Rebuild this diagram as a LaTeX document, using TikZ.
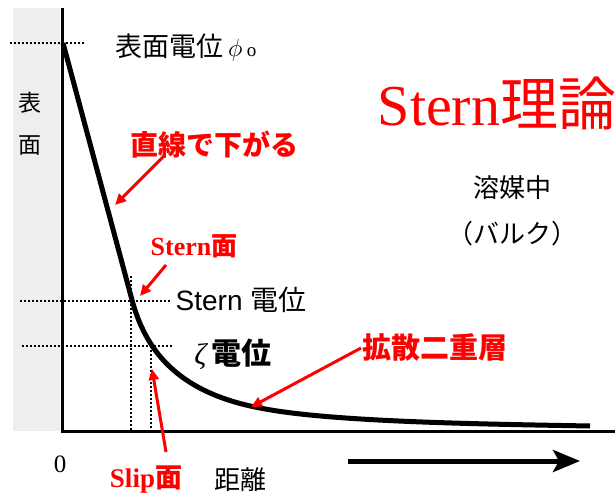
\documentclass[tikz,border=0pt]{standalone}
\usepackage{fontspec}
\setmainfont{Liberation Serif}
\newfontfamily\cjk{Noto Sans CJK JP}
\newfontfamily\arialf{Liberation Sans}
\usetikzlibrary{arrows.meta}
\newcommand\myfs[1]{\fontsize{#1bp}{#1bp}\selectfont}
\tikzset{
  lbl/.style={inner sep=0pt, text=black},
  redlbl/.style={inner sep=0pt, text=red},
  ann/.style={draw=red, line width=3bp, -{Triangle[length=11bp,width=10bp]}},
  guide/.style={line width=1.6bp, dash pattern=on 1.6bp off 2.4bp},
  axisline/.style={line width=3bp},
  potcurve/.style={line width=5bp, line join=round},
}
\begin{document}
\begin{tikzpicture}[x=1bp,y=-1bp]
\useasboundingbox (0,0) rectangle (615,499);
% surface band
\fill[gray!13] (13,8) rectangle (60,431);
% guide lines
\draw[guide] (10,43) -- (85,43);
\draw[guide] (20,301) -- (170,301);
\draw[guide] (22,346) -- (173,346);
\draw[guide] (131,276) -- (131,431);
\draw[guide] (151,346) -- (151,431);
% axes
\draw[axisline] (62,8) -- (62,431) -- (615,431);
% potential curve
\draw[potcurve] (63,43) -- (132,300) .. controls (145,348) and (175,392) .. (260,408)
   .. controls (330,422) and (480,424) .. (590,426);
% distance arrow
\coordinate (d0) at (348,461);
\coordinate (d1) at (580,461);
\draw[line width=5bp, -{Stealth[length=27bp,width=22bp,inset=6bp]}] (d0) -- (d1);
% labels
\node[lbl] (phi0) at (186,48) {\cjk\myfs{27}表面電位\,$\phi$\,{\rmfamily\myfs{19}o}};
\node[lbl] (s1) at (30,103) {\cjk\myfs{23}表};
\node[lbl] (s2) at (30,146) {\cjk\myfs{23}面};
\node[redlbl] (title) at (497,103) {\myfs{58}Stern{\cjk 理論}};
\node[lbl] (bulk1) at (512,188) {\cjk\myfs{26}溶媒中};
\node[lbl] (bulk2) at (512,234) {\cjk\myfs{26}（バルク）};
\node[redlbl] (lin) at (214,145) {\cjk\bfseries\myfs{28}直線で下がる};
\node[redlbl] (sternface) at (194,246) {\myfs{26}\bfseries Stern{\cjk 面}};
\node[lbl] (sternpot) at (241,300) {\arialf\myfs{28}Stern {\cjk 電位}};
\node[lbl] (zeta) at (233,354) {\myfs{30}{\itshape ζ}\,{\cjk\bfseries 電位}};
\node[redlbl] (diff) at (435,347) {\cjk\bfseries\myfs{29}拡散二重層};
\node[lbl] (zero) at (60,464) {\myfs{25}0};
\node[redlbl] (slip) at (146,480) {\myfs{27}\bfseries Slip{\cjk 面}};
\node[lbl] (dist) at (240,480) {\cjk\myfs{26}距離};
% annotation arrows
\coordinate (a1s) at (165,155); \coordinate (a1t) at (115,205);
\coordinate (a2s) at (166,265); \coordinate (a2t) at (140,296);
\coordinate (a3s) at (166,452); \coordinate (a3t) at (152,369);
\coordinate (a4s) at (361,348); \coordinate (a4t) at (251,407);
\draw[ann] (a1s) -- (a1t);
\draw[ann] (a2s) -- (a2t);
\draw[ann] (a3s) -- (a3t);
\draw[ann] (a4s) -- (a4t);
\end{tikzpicture}
\end{document}
